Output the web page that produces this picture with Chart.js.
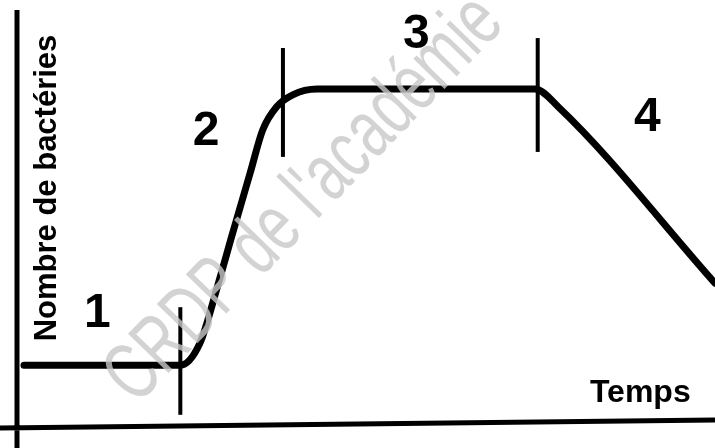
<!DOCTYPE html>
<html>
<head>
<meta charset="utf-8">
<script src="https://cdn.jsdelivr.net/npm/chart.js@4"></script>
<style>
  html, body { margin: 0; padding: 0; background: #fff; }
  #wrap { width: 715px; height: 448px; position: relative; }
</style>
</head>
<body>
<div id="wrap"><canvas id="growthChart"></canvas></div>
<script>
// Courbe de croissance bactérienne (unités arbitraires, 0-100 sur les deux axes)
const temps     = [1.0, 23.4, 26.2, 28.7, 30.9, 33.4, 35.2, 37.2, 39.5, 43.0, 74.2, 77.6, 100];
const bacteries = [14.7, 14.7, 20.0, 33.6, 46.6, 61.1, 71.5, 77.1, 80.0, 81.4, 81.4, 77.0, 34.5];

// Traits verticaux séparant les phases
const limitesTemps = [23.4, 38.1, 74.6];
const limitesBas   = [2.7, 65.0, 66.2];
const limitesHaut  = [28.7, 91.3, 93.7];

// Numéros des phases et leur point d'ancrage (mêmes unités)
const phases  = ['1', '2', '3', '4'];
const phasesX = [11.5, 27.1, 57.2, 90.3];
const phasesY = [27.0, 71.0, 94.5, 74.4];

const titreX = 'Temps';
const titreY = 'Nombre de bactéries';
const filigrane = "CRDP de l'académie";

const FONT = "'Liberation Sans', Arial, sans-serif";

const limiteSets = limitesTemps.map((t, i) => ({
  data: [{ x: t, y: limitesBas[i] }, { x: t, y: limitesHaut[i] }],
  borderColor: '#000',
  borderWidth: 4,
  pointRadius: 0,
  clip: false,
}));

// axes + textes dessinés à la main
const decor = {
  id: 'decor',
  beforeDatasetsDraw(chart) {
    const { ctx, chartArea: a } = chart;
    ctx.save();
    ctx.strokeStyle = '#000';
    ctx.lineWidth = 5;
    ctx.beginPath();
    ctx.moveTo(a.left, 10);
    ctx.lineTo(a.left, chart.height);
    ctx.moveTo(0, a.bottom + 2);
    ctx.lineTo(chart.width, a.bottom - 6);
    ctx.stroke();
    ctx.restore();
  },
  afterDatasetsDraw(chart) {
    const { ctx, scales: { x, y } } = chart;
    ctx.save();
    ctx.fillStyle = '#000';
    ctx.textAlign = 'center';
    ctx.textBaseline = 'middle';

    ctx.font = `bold 48px ${FONT}`;
    phases.forEach((p, i) => ctx.fillText(p, x.getPixelForValue(phasesX[i]), y.getPixelForValue(phasesY[i])));

    ctx.font = `bold 32px ${FONT}`;
    ctx.fillText(titreX, x.getPixelForValue(89.3), y.getPixelForValue(8.0));

    ctx.save();
    ctx.translate(47, 188);
    ctx.rotate(-Math.PI / 2);
    ctx.font = `bold 31px ${FONT}`;
    ctx.fillText(titreY, 0, 0);
    ctx.restore();

    // filigrane
    ctx.save();
    ctx.translate(305, 200);
    ctx.rotate(-0.8);
    ctx.scale(0.7, 1);
    ctx.font = `82px ${FONT}`;
    ctx.fillStyle = 'rgba(200,200,200,0.8)';
    ctx.fillText(filigrane, 0, 0);
    ctx.restore();

    ctx.restore();
  }
};

new Chart(document.getElementById('growthChart'), {
  type: 'line',
  data: {
    datasets: [{
      data: temps.map((t, i) => ({ x: t, y: bacteries[i] })),
      borderColor: '#000',
      borderWidth: 7,
      pointRadius: 0,
      cubicInterpolationMode: 'monotone',
      borderCapStyle: 'round',
      clip: false,
    }, ...limiteSets]
  },
  options: {
    responsive: true,
    maintainAspectRatio: false,
    animation: false,
    layout: { padding: { left: 17, top: 12, right: 0, bottom: 22 } },
    plugins: { legend: { display: false }, tooltip: { enabled: false } },
    scales: {
      x: { type: 'linear', min: 0, max: 100, display: false },
      y: { type: 'linear', min: 0, max: 100, display: false }
    }
  },
  plugins: [decor]
});
</script>
</body>
</html>
